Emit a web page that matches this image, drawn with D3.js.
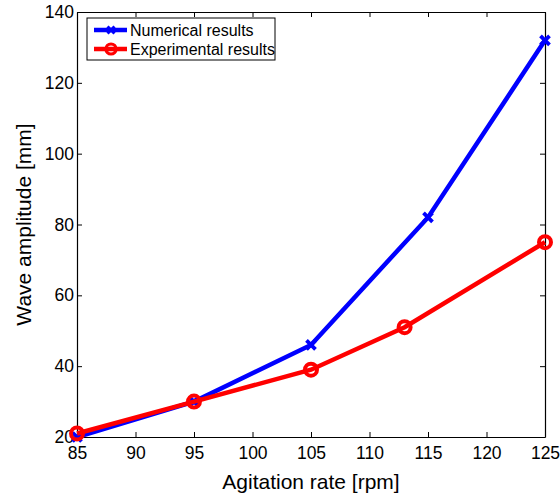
<!DOCTYPE html>
<html>
<head>
<meta charset="utf-8">
<script src="https://cdn.jsdelivr.net/npm/d3@7"></script>
<style>
  body { margin: 0; background: #fff; }
  svg { font-family: "Liberation Sans", Arial, sans-serif; }
</style>
</head>
<body>
<svg id="canvas" width="560" height="497"></svg>
<script>
// data
let numX = [85, 95, 105, 115, 125]
let numY = [20, 30, 46, 82, 132]
let expX = [85, 95, 105, 113, 125]
let expY = [21, 30, 39, 51, 75]
let xTicks = [85, 90, 95, 100, 105, 110, 115, 120, 125]
let yTicks = [20, 40, 60, 80, 100, 120, 140]
let legendLabels = ['Numerical results', 'Experimental results']

let svg = d3.select('#canvas')
let L = 77, R = 545, T = 12, B = 437

let x = d3.scaleLinear().domain([85, 125]).range([L, R])
let y = d3.scaleLinear().domain([20, 140]).range([B, T])

// ticks pointing inward
let axBottom = svg.append('g').attr('transform', `translate(0,${B})`)
  .call(d3.axisBottom(x).tickValues(xTicks).tickSizeInner(-5).tickSizeOuter(0).tickPadding(10))
let axTop = svg.append('g').attr('transform', `translate(0,${T})`)
  .call(d3.axisTop(x).tickValues(xTicks).tickSizeInner(-5).tickSizeOuter(0).tickFormat(''))
let axLeft = svg.append('g').attr('transform', `translate(${L},0)`)
  .call(d3.axisLeft(y).tickValues(yTicks).tickSizeInner(-5).tickSizeOuter(0).tickPadding(3))
let axRight = svg.append('g').attr('transform', `translate(${R},0)`)
  .call(d3.axisRight(y).tickValues(yTicks).tickSizeInner(-5).tickSizeOuter(0).tickFormat(''))

svg.selectAll('.domain').attr('stroke', '#000').attr('stroke-width', 1.2)
svg.selectAll('.tick line').attr('stroke', '#000')
svg.selectAll('.tick text').attr('font-size', 17.5).attr('fill', '#000')
  .attr('font-family', '"Liberation Sans", Arial, sans-serif')

svg.append('text').attr('x', (L + R) / 2).attr('y', 489)
  .attr('text-anchor', 'middle').attr('font-size', 21).text('Agitation rate [rpm]')
svg.append('text').attr('transform', `translate(31,${(T + B) / 2}) rotate(-90)`)
  .attr('text-anchor', 'middle').attr('font-size', 21).text('Wave amplitude [mm]')

let line = d3.line().x(d => x(d[0])).y(d => y(d[1]))
let numData = numX.map((v, i) => [v, numY[i]])
let expData = expX.map((v, i) => [v, expY[i]])

let cross = (g, cx, cy, s, w) => {
  g.append('path')
    .attr('d', `M${cx - s},${cy - s}L${cx + s},${cy + s}M${cx - s},${cy + s}L${cx + s},${cy - s}`)
    .attr('stroke', '#0000ff').attr('stroke-width', w).attr('fill', 'none')
}

svg.append('path').datum(numData).attr('d', line)
  .attr('fill', 'none').attr('stroke', '#0000ff').attr('stroke-width', 4.5)
numData.forEach(d => cross(svg, x(d[0]), y(d[1]), 4.5, 3.8))

svg.append('path').datum(expData).attr('d', line)
  .attr('fill', 'none').attr('stroke', '#ff0000').attr('stroke-width', 4.5)
svg.selectAll('circle.exp').data(expData).enter().append('circle')
  .attr('class', 'exp')
  .attr('cx', d => x(d[0])).attr('cy', d => y(d[1])).attr('r', 6)
  .attr('fill', 'none').attr('stroke', '#ff0000').attr('stroke-width', 4)

// legend
let lg = svg.append('g')
lg.append('rect').attr('x', 87).attr('y', 18).attr('width', 188).attr('height', 42)
  .attr('fill', '#fff').attr('stroke', '#000').attr('stroke-width', 1)
legendLabels.forEach((lab, i) => {
  let ly = 30 + i * 19
  let col = i == 0 ? '#0000ff' : '#ff0000'
  lg.append('line').attr('x1', 94).attr('x2', 127).attr('y1', ly).attr('y2', ly)
    .attr('stroke', col).attr('stroke-width', 4.5)
  if (i == 0) cross(lg, 111, ly, 3.5, 3)
  else lg.append('circle').attr('cx', 111).attr('cy', ly).attr('r', 5)
    .attr('fill', 'none').attr('stroke', col).attr('stroke-width', 3.2)
  lg.append('text').attr('x', 130).attr('y', ly + 5.5).attr('font-size', 16).text(lab)
})
</script>
</body>
</html>
